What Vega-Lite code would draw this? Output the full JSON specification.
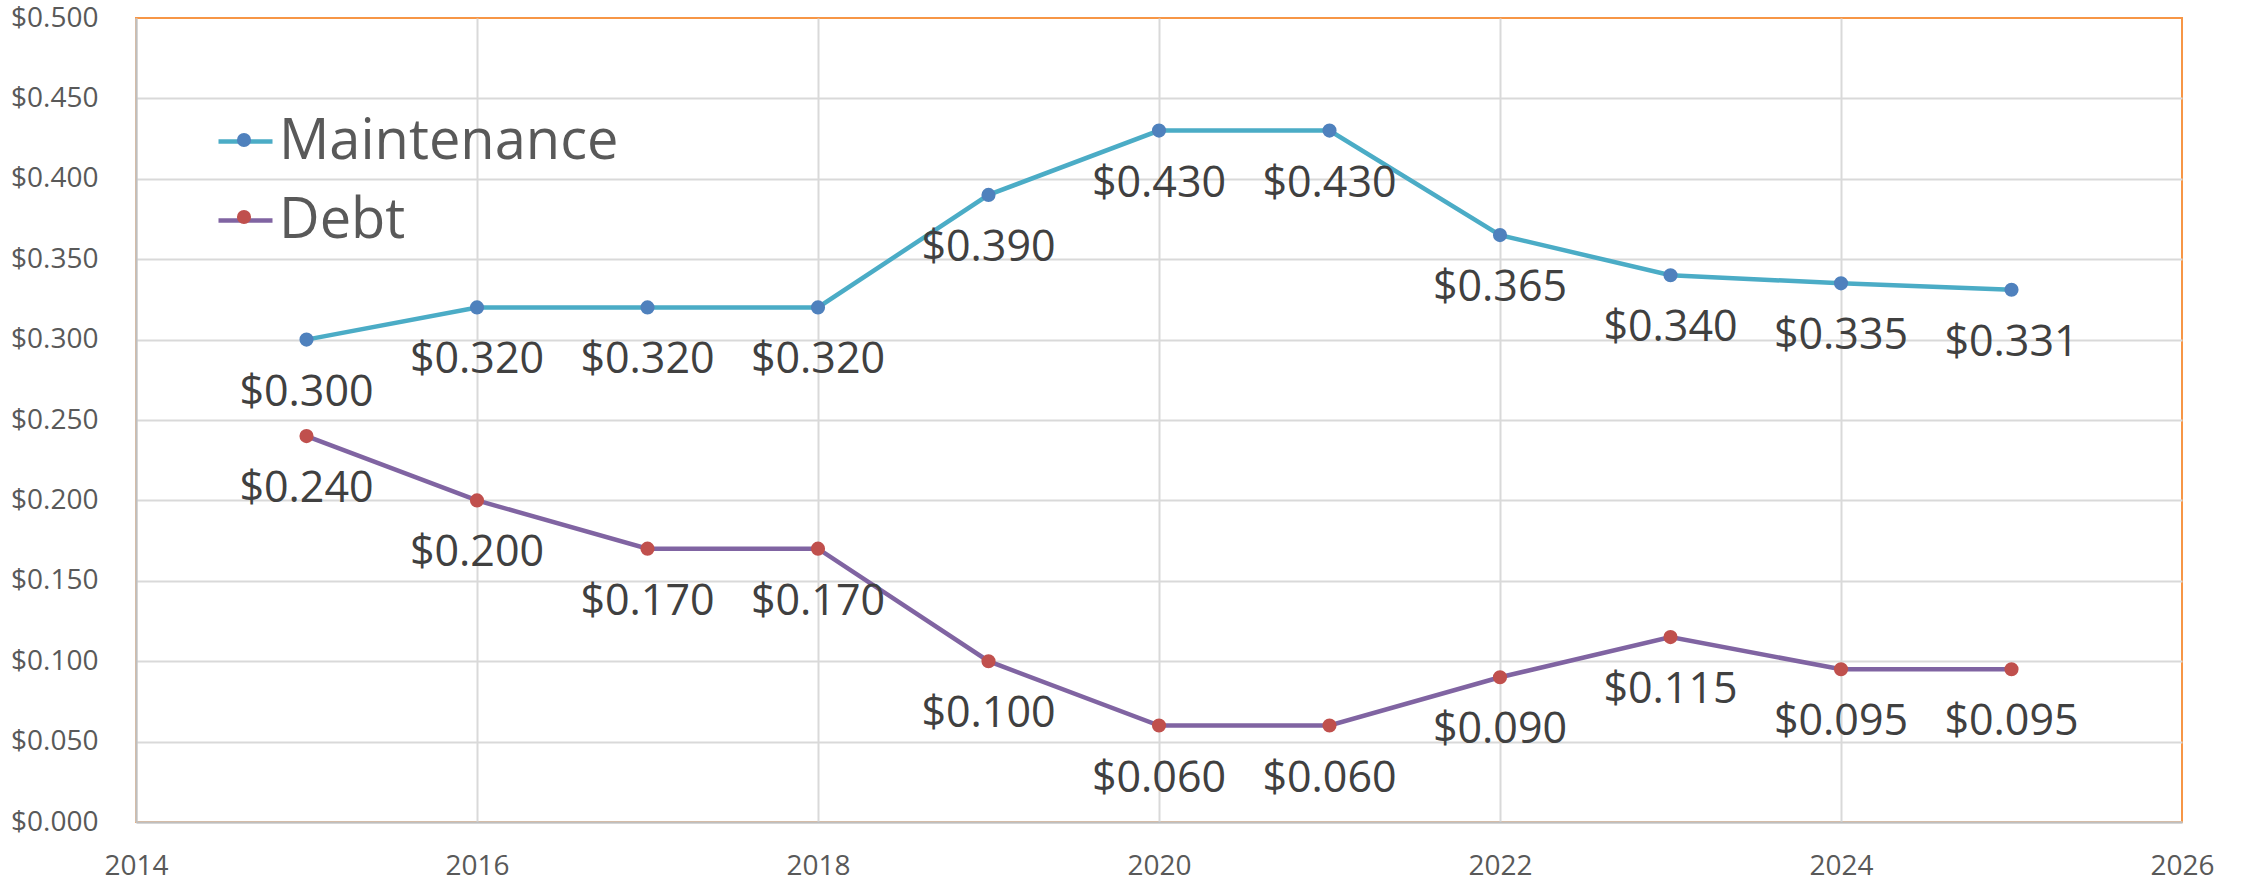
{
  "$schema": "https://vega.github.io/schema/vega-lite/v6.json",
  "width": 2046,
  "height": 804,
  "autosize": {"type": "none"},
  "padding": {"left": 136, "top": 18, "right": 59, "bottom": 64},
  "background": "white",
  "config": {
    "view": {"stroke": "#F79646", "strokeWidth": 2},
    "font": "Open Sans",
    "axis": {
      "ticks": false,
      "title": null,
      "labelFont": "Open Sans",
      "labelFontSize": 28,
      "labelColor": "#595959",
      "domainColor": "#BFBFBF",
      "domainWidth": 2,
      "gridColor": "#D9D9D9",
      "gridWidth": 2
    }
  },
  "data": {
    "values": [
      {"year": 2015, "series": "Maintenance", "value": 0.300},
      {"year": 2016, "series": "Maintenance", "value": 0.320},
      {"year": 2017, "series": "Maintenance", "value": 0.320},
      {"year": 2018, "series": "Maintenance", "value": 0.320},
      {"year": 2019, "series": "Maintenance", "value": 0.390},
      {"year": 2020, "series": "Maintenance", "value": 0.430},
      {"year": 2021, "series": "Maintenance", "value": 0.430},
      {"year": 2022, "series": "Maintenance", "value": 0.365},
      {"year": 2023, "series": "Maintenance", "value": 0.340},
      {"year": 2024, "series": "Maintenance", "value": 0.335},
      {"year": 2025, "series": "Maintenance", "value": 0.331},
      {"year": 2015, "series": "Debt", "value": 0.240},
      {"year": 2016, "series": "Debt", "value": 0.200},
      {"year": 2017, "series": "Debt", "value": 0.170},
      {"year": 2018, "series": "Debt", "value": 0.170},
      {"year": 2019, "series": "Debt", "value": 0.100},
      {"year": 2020, "series": "Debt", "value": 0.060},
      {"year": 2021, "series": "Debt", "value": 0.060},
      {"year": 2022, "series": "Debt", "value": 0.090},
      {"year": 2023, "series": "Debt", "value": 0.115},
      {"year": 2024, "series": "Debt", "value": 0.095},
      {"year": 2025, "series": "Debt", "value": 0.095}
    ]
  },
  "encoding": {
    "x": {
      "field": "year",
      "type": "quantitative",
      "scale": {"domain": [2014, 2026], "nice": false, "zero": false},
      "axis": {
        "values": [2014, 2016, 2018, 2020, 2022, 2024, 2026],
        "format": "d",
        "labelFlush": false,
        "labelBaseline": "alphabetic",
        "labelPadding": 52,
        "gridOpacity": {"condition": {"test": "datum.value >= 2025.5", "value": 0}, "value": 1}
      }
    },
    "y": {
      "field": "value",
      "type": "quantitative",
      "scale": {"domain": [0, 0.5], "nice": false},
      "axis": {
        "values": [0, 0.05, 0.1, 0.15, 0.2, 0.25, 0.3, 0.35, 0.4, 0.45, 0.5],
        "format": "$.3f",
        "labelPadding": 38,
        "gridOpacity": {"condition": {"test": "datum.value >= 0.49", "value": 0}, "value": 1}
      }
    }
  },
  "layer": [
    {
      "mark": {"type": "line", "strokeWidth": 4.5},
      "encoding": {
        "stroke": {
          "field": "series",
          "type": "nominal",
          "sort": ["Maintenance", "Debt"],
          "scale": {"range": ["#4BACC6", "#8064A2"]},
          "legend": {
            "orient": "none",
            "legendX": 80,
            "legendY": 94,
            "title": null,
            "padding": 0,
            "symbolType": "stroke",
            "symbolSize": 2916,
            "symbolStrokeWidth": 4.5,
            "labelFont": "Open Sans",
            "labelFontSize": 56,
            "labelColor": "#595959",
            "labelOffset": 4,
            "labelLimit": 0,
            "rowPadding": 21,
            "zindex": 0
          }
        }
      }
    },
    {
      "transform": [{"filter": "isValid(datum.value)"}],
      "mark": {"type": "circle", "size": 200, "opacity": 1},
      "encoding": {
        "fill": {
          "field": "series",
          "type": "nominal",
          "sort": ["Maintenance", "Debt"],
          "scale": {"range": ["#4F81BD", "#C0504D"]},
          "legend": {
            "orient": "none",
            "legendX": 80,
            "legendY": 94,
            "title": null,
            "padding": 0,
            "symbolType": "circle",
            "symbolSize": 200,
            "symbolStrokeWidth": 0,
            "symbolOpacity": 1,
            "labelFont": "Open Sans",
            "labelFontSize": 56,
            "labelOpacity": 0,
            "labelOffset": 4,
            "labelLimit": 0,
            "rowPadding": 21,
            "zindex": 1
          }
        }
      }
    },
    {
      "mark": {
        "type": "text",
        "font": "Open Sans",
        "fontSize": 43,
        "color": "#404040",
        "align": "center",
        "baseline": "alphabetic",
        "dy": 66
      },
      "encoding": {
        "text": {"field": "value", "type": "quantitative", "format": "$.3f"}
      }
    }
  ]
}
